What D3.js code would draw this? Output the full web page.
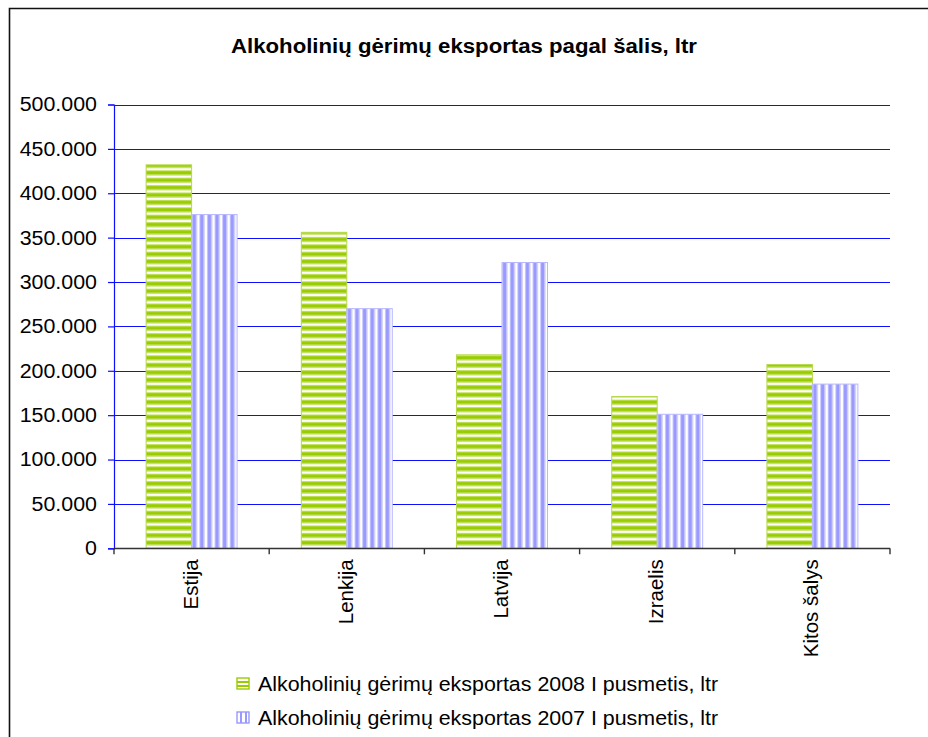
<!DOCTYPE html>
<html>
<head>
<meta charset="utf-8">
<script src="https://cdn.jsdelivr.net/npm/d3@7"></script>
<style>
  html, body { margin: 0; padding: 0; background: #fff; }
  svg { display: block; font-family: "Liberation Sans", Arial, sans-serif; }
</style>
</head>
<body>
<svg id="chart" width="928" height="737"></svg>
<script>
const title = "Alkoholinių gėrimų eksportas pagal šalis, ltr";
const categories = ["Estija", "Lenkija", "Latvija", "Izraelis", "Kitos šalys"];
const seriesNames = [
  "Alkoholinių gėrimų eksportas 2008 I pusmetis, ltr",
  "Alkoholinių gėrimų eksportas 2007 I pusmetis, ltr"
];
const values2008 = [432000, 356000, 218000, 171000, 207000];
const values2007 = [376000, 270000, 322000, 151000, 185000];
const yTicks = [0, 50000, 100000, 150000, 200000, 250000, 300000, 350000, 400000, 450000, 500000];

const svg = d3.select("#chart");
const W = 928, H = 737;
const plot = { left: 114, right: 890, top: 104.5, bottom: 548.3 };
const SX = 1.07; // horizontal stretch of horizontal text

const locale = d3.formatLocale({ decimal: ",", thousands: ".", grouping: [3], currency: ["", ""] });
const fmt = locale.format(",d");

// patterns
const defs = svg.append("defs");
const pg = defs.append("pattern").attr("id", "pgreen").attr("patternUnits", "userSpaceOnUse")
  .attr("width", 10).attr("height", 7.4);
pg.append("rect").attr("width", 10).attr("height", 7.4).attr("fill", "#ffffff");
pg.append("rect").attr("y", 0).attr("width", 10).attr("height", 1).attr("fill", "#c6e26a");
pg.append("rect").attr("y", 1).attr("width", 10).attr("height", 3.4).attr("fill", "#99cc00");
pg.append("rect").attr("y", 4.4).attr("width", 10).attr("height", 1).attr("fill", "#c6e26a");

const pp = defs.append("pattern").attr("id", "ppurple").attr("patternUnits", "userSpaceOnUse")
  .attr("width", 7.6).attr("height", 10);
pp.append("rect").attr("width", 7.6).attr("height", 10).attr("fill", "#ffffff");
pp.append("rect").attr("x", 0).attr("width", 1).attr("height", 10).attr("fill", "#c8c8ff");
pp.append("rect").attr("x", 1).attr("width", 3.4).attr("height", 10).attr("fill", "#9999ff");
pp.append("rect").attr("x", 4.4).attr("width", 1).attr("height", 10).attr("fill", "#c8c8ff");

// frame
svg.append("path").attr("d", `M9.5,${H} V8.5 H${W}`).attr("fill", "none")
  .attr("stroke", "#111").attr("stroke-width", 1.6);

// title
svg.append("text").attr("x", 464).attr("y", 53).attr("text-anchor", "middle")
  .attr("font-size", 20).attr("font-weight", "bold").attr("fill", "#000")
  .attr("textLength", 466).attr("lengthAdjust", "spacingAndGlyphs")
  .text(title);

// scales
const y = d3.scaleLinear().domain([0, 500000]).range([plot.bottom, plot.top]);
const x0 = d3.scaleBand().domain(categories).range([plot.left, plot.right])
  .paddingInner(0.414).paddingOuter(0.207);
const x1 = d3.scaleBand().domain([0, 1]).range([0, x0.bandwidth()]);
const step = x0.step();

// gridlines
svg.append("g").selectAll("line").data(yTicks.filter(d => d > 0)).join("line")
  .attr("x1", plot.left).attr("x2", plot.right)
  .attr("y1", d => Math.round(y(d)) + 0.5).attr("y2", d => Math.round(y(d)) + 0.5)
  .attr("stroke", "#0f0fff").attr("stroke-width", 1.2);

// y axis
const yAxis = d3.axisLeft(y).tickValues(yTicks).tickFormat(d => fmt(d)).tickSize(6).tickPadding(11);
const gy = svg.append("g").attr("transform", `translate(${plot.left},0)`).call(yAxis);
gy.select(".domain").attr("stroke", "#0f0fff").attr("stroke-width", 1.2);
gy.selectAll(".tick line").attr("stroke", "#0f0fff").attr("stroke-width", 1.2);
gy.selectAll(".tick text").attr("font-size", 20).attr("fill", "#000")
  .attr("font-family", "'Liberation Sans', Arial, sans-serif")
  .attr("x", -17 / SX).attr("transform", `scale(${SX},1)`);

// bars
const groups = svg.append("g").selectAll("g").data(categories).join("g")
  .attr("transform", d => `translate(${x0(d)},0)`);
groups.append("rect")
  .attr("x", x1(0)).attr("width", x1.bandwidth())
  .attr("y", (d, i) => y(values2008[i])).attr("height", (d, i) => y(0) - y(values2008[i]))
  .attr("fill", "url(#pgreen)").attr("stroke", "#b5d94a").attr("stroke-width", 1);
groups.append("rect")
  .attr("x", x1(1)).attr("width", x1.bandwidth())
  .attr("y", (d, i) => y(values2007[i])).attr("height", (d, i) => y(0) - y(values2007[i]))
  .attr("fill", "url(#ppurple)").attr("stroke", "#b8b8ff").attr("stroke-width", 1);

// x axis
const xAxis = svg.append("g");
xAxis.append("line").attr("x1", plot.left).attr("x2", plot.right)
  .attr("y1", Math.round(plot.bottom) + 0.5).attr("y2", Math.round(plot.bottom) + 0.5)
  .attr("stroke", "#333").attr("stroke-width", 1.4);
const boundaries = categories.map(c => x0(c) - step * 0.207).concat([plot.right]);
xAxis.selectAll("line.tick").data(boundaries).join("line").attr("class", "tick")
  .attr("x1", d => d).attr("x2", d => d)
  .attr("y1", plot.bottom).attr("y2", plot.bottom + 6)
  .attr("stroke", "#333").attr("stroke-width", 1.4);
xAxis.selectAll("text").data(categories).join("text")
  .attr("transform", d => `translate(${x0(d) + x0.bandwidth() / 2 + 6},${plot.bottom + 11}) rotate(-90)`)
  .attr("text-anchor", "end").attr("font-size", 20.5).attr("fill", "#000")
  .text(d => d);

// legend
const legend = svg.append("g");
const legY = [684, 718];
seriesNames.forEach((name, i) => {
  const g = legend.append("g");
  if (i === 0) {
    g.append("rect").attr("x", 237).attr("y", legY[i] - 6).attr("width", 12).attr("height", 11)
      .attr("fill", "#fff").attr("stroke", "#99cc00").attr("stroke-width", 1.4);
    [legY[i] - 3, legY[i] + 1].forEach(yy => g.append("rect").attr("x", 237).attr("y", yy)
      .attr("width", 12).attr("height", 2).attr("fill", "#99cc00"));
  } else {
    g.append("rect").attr("x", 237).attr("y", legY[i] - 6).attr("width", 12).attr("height", 11)
      .attr("fill", "#fff").attr("stroke", "#9999ff").attr("stroke-width", 1.4);
    [240, 245].forEach(xx => g.append("rect").attr("x", xx).attr("y", legY[i] - 6)
      .attr("width", 2).attr("height", 11).attr("fill", "#9999ff"));
  }
  g.append("text").attr("x", 258 / SX).attr("y", legY[i] + 7).attr("font-size", 20).attr("fill", "#000")
    .attr("transform", `scale(${SX},1)`)
    .text(name);
});
</script>
</body>
</html>
